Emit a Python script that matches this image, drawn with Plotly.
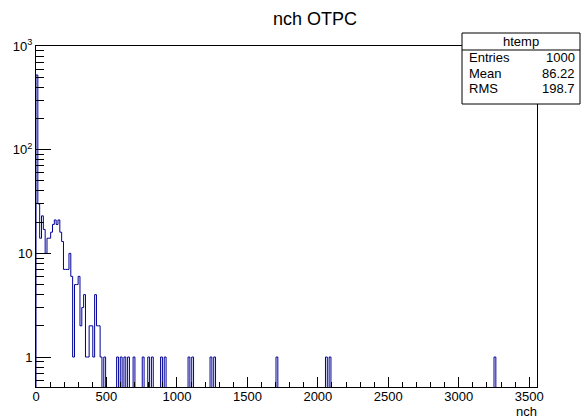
import numpy as np
import plotly.graph_objects as go

# ---------------- data ----------------
bin_width = 13.0
n_bins = 273
# contents of the first bins (0, 13, 26, ...)
dense_counts = [525, 30, 14, 23, 17, 10, 14, 14, 16, 19, 21, 19, 21, 16, 13,
                7, 7, 7, 10, 6, 1, 5, 5, 6, 2, 3, 4, 1, 1, 2, 2, 1, 4, 2, 2,
                1, 0, 1]
# isolated single entries further out (nch values)
spike_values = [572, 600, 630, 650, 689, 760, 795, 828, 895, 920, 1080, 1105,
                1247, 1272, 1706, 2064, 2088, 3262]

x_tick_vals = [0, 500, 1000, 1500, 2000, 2500, 3000, 3500]
y_tick_vals = [1, 10, 100, 1000]
y_tick_text = ["1", "10", "10<sup>2</sup>", "10<sup>3</sup>"]
y_minor_vals = [0.6, 0.7, 0.8, 0.9, 2, 3, 4, 5, 6, 7, 8, 9,
                20, 30, 40, 50, 60, 70, 80, 90,
                200, 300, 400, 500, 600, 700, 800, 900]

hist_name = "htemp"
stats_labels = ["Entries", "Mean", "RMS"]
stats_values = ["1000", "86.22", "198.7"]
title_text = "nch OTPC"
x_title = "nch"

# ---------------- build histogram ----------------
counts = np.zeros(n_bins)
counts[:len(dense_counts)] = dense_counts
for v in spike_values:
    counts[int(v // bin_width)] += 1
edges = np.arange(n_bins + 1) * bin_width
floor_val = 0.1  # below the visible log range -> drawn down to frame bottom
y_plot = np.where(counts > 0, counts, floor_val)
xs = [edges[0]] + list(edges[:-1]) + [edges[-1]]
ys = [floor_val] + list(y_plot) + [floor_val]

# ---------------- geometry ----------------
W, H = 582, 418
L, R, T, B = 36, 537, 46, 387
FONT = "Liberation Sans, Arial, Helvetica, sans-serif"


def px(xp):
    return (xp - L) / (R - L)


def py(yp):
    return (B - yp) / (B - T)


fig = go.Figure()
fig.add_trace(go.Scatter(x=xs, y=ys, mode="lines", line_shape="hv",
                         line=dict(color="#000099", width=1),
                         hoverinfo="skip", showlegend=False))

axis_common = dict(showgrid=False, zeroline=False, showline=True, mirror=True,
                   linecolor="black", linewidth=1, ticks="inside",
                   tickcolor="black", tickwidth=1,
                   tickfont=dict(family=FONT, size=13, color="black"))

fig.update_xaxes(range=[0, 3555], tickmode="array", tickvals=x_tick_vals,
                 ticktext=[str(v) for v in x_tick_vals], ticklen=10,
                 ticklabelstandoff=-3,
                 minor=dict(ticks="inside", ticklen=5, tick0=0, dtick=100,
                            tickcolor="black", tickwidth=1),
                 **axis_common)
fig.update_yaxes(type="log", range=[np.log10(0.514), 3.0], tickmode="array",
                 tickvals=y_tick_vals, ticktext=y_tick_text, ticklen=15,
                 minor=dict(ticks="inside", ticklen=8, tickmode="array",
                            tickvals=y_minor_vals, tickcolor="black",
                            tickwidth=1),
                 **axis_common)

# stats box
box_l, box_r, box_t, box_div, box_b = 462, 580, 33, 50, 104
shapes = [
    dict(type="rect", xref="paper", yref="paper", x0=px(box_l), x1=px(box_r),
         y0=py(box_b), y1=py(box_t), line=dict(color="black", width=1),
         fillcolor="white", layer="above"),
    dict(type="line", xref="paper", yref="paper", x0=px(box_l), x1=px(box_r),
         y0=py(box_div), y1=py(box_div), line=dict(color="black", width=1),
         layer="above"),
]
annotations = [
    dict(text=hist_name, x=px((box_l + box_r) / 2), y=py(41.5), xref="paper",
         yref="paper", showarrow=False, xanchor="center", yanchor="middle",
         font=dict(family=FONT, size=13, color="black")),
]
row_y = [58, 73, 88]
for lab, val, yy in zip(stats_labels, stats_values, row_y):
    annotations.append(dict(text=lab, x=px(467), y=py(yy), xref="paper",
                            yref="paper", showarrow=False, xanchor="left",
                            yanchor="middle",
                            font=dict(family=FONT, size=13, color="black")))
    annotations.append(dict(text=val, x=px(577), y=py(yy), xref="paper",
                            yref="paper", showarrow=False, xanchor="right",
                            yanchor="middle",
                            font=dict(family=FONT, size=13, color="black")))
annotations.append(dict(text=x_title, x=px(539), y=py(411), xref="paper",
                        yref="paper", showarrow=False, xanchor="right",
                        yanchor="middle",
                        font=dict(family=FONT, size=13, color="black")))

fig.update_layout(
    width=W, height=H,
    margin=dict(l=L, r=W - R, t=T, b=H - B, pad=0),
    paper_bgcolor="white", plot_bgcolor="white",
    title=dict(text=title_text, x=315 / W, y=1 - 19 / H, xref="container",
               yref="container", xanchor="center", yanchor="middle",
               font=dict(family=FONT, size=18, color="black")),
    shapes=shapes, annotations=annotations, showlegend=False,
)

fig.write_html("out.html")
